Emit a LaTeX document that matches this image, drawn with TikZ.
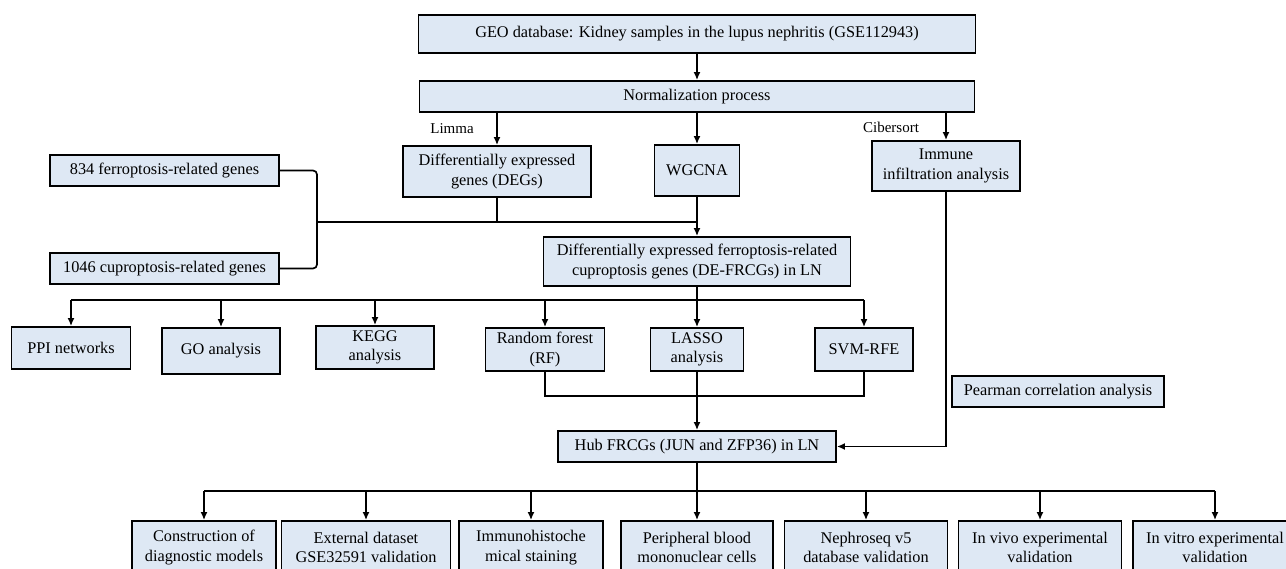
\documentclass[tikz,border=0pt]{standalone}
\usepackage{fontspec}
\setmainfont{Liberation Serif}
\usetikzlibrary{arrows.meta}
\definecolor{boxblue}{RGB}{222,232,244}
\tikzset{
	box/.style={draw, line width=1.8pt, fill=boxblue, align=center, inner sep=0pt, font=\fontsize{16.3}{19.5}\selectfont},
	conn/.style={line width=1.7pt},
	arr/.style={conn, -{Latex[length=8pt,width=7pt]}},
	lbl/.style={font=\fontsize{15}{18}\selectfont}
}

\begin{document}
\begin{tikzpicture}[x=1pt, y=-1pt]
				\clip (0,0) rectangle (1286,569);
				% top column
				\node[box, minimum width=557, minimum height=38] (geo) at (697,34) {GEO database: Kidney samples in the lupus nephritis (GSE112943)};
				\node[box, minimum width=555, minimum height=31] (norm) at (697,96.5) {Normalization process};
				\node[box, minimum width=188, minimum height=51] (degs) at (497,171.5) {Differentially expressed\\genes (DEGs)};
				\node[box, minimum width=85, minimum height=51] (wgcna) at (697,170.5) {WGCNA};
				\node[box, minimum width=148, minimum height=50] (immune) at (946,166) {Immune\\infiltration analysis};
				\node[box, minimum width=229, minimum height=31] (ferro) at (164.5,170.5) {834 ferroptosis-related genes};
				\node[box, minimum width=229, minimum height=31] (cupro) at (164.5,268.5) {1046 cuproptosis-related genes};
				\node[box, minimum width=307, minimum height=49] (defrcg) at (697,261.5) {Differentially expressed ferroptosis-related\\cuproptosis genes (DE-FRCGs) in LN};
				\node[lbl] (limma) at (452,129) {Limma};
				\node[lbl] (cibersort) at (891,127) {Cibersort};
				% analyses
				\node[box, minimum width=119, minimum height=42] (ppi) at (71,348) {PPI networks};
				\node[box, minimum width=118, minimum height=46] (go) at (221,351) {GO analysis};
				\node[box, minimum width=118, minimum height=43] (kegg) at (375,347.5) {KEGG\\analysis};
				\node[box, minimum width=119, minimum height=43] (rf) at (545,349.5) {Random forest\\(RF)};
				\node[box, minimum width=93, minimum height=43] (lasso) at (697,349.5) {LASSO\\analysis};
				\node[box, minimum width=98, minimum height=43] (svm) at (864,349.5) {SVM-RFE};
				\node[box, minimum width=212, minimum height=31] (pearman) at (1058,391.5) {Pearman correlation analysis};
				\node[box, minimum width=278, minimum height=31] (hub) at (697,446.5) {Hub FRCGs (JUN and ZFP36) in LN};
				% validation row
				\node[box, minimum width=144, minimum height=53] (b1) at (204,547.5) {Construction of\\diagnostic models};
				\node[box, minimum width=169, minimum height=53] (b2) at (366,547.5) {External dataset\\GSE32591 validation};
				\node[box, minimum width=144, minimum height=53] (b3) at (531,547.5) {Immunohistoche\\mical staining};
				\node[box, minimum width=152, minimum height=53] (b4) at (697,547.5) {Peripheral blood\\mononuclear cells};
				\node[box, minimum width=163, minimum height=53] (b5) at (866,547.5) {Nephroseq v5\\database validation};
				\node[box, minimum width=163, minimum height=53] (b6) at (1040,547.5) {In vivo experimental\\validation};
				\node[box, minimum width=164, minimum height=53] (b7) at (1215,547.5) {In vitro experimental\\validation};
				% connectors
				\coordinate (join) at (317,222);
				\coordinate (split) at (697,300);
				\coordinate (merge) at (697,396);
				\coordinate (fan) at (697,491);
				\draw[arr] (geo) -- (norm);
				\draw[arr] (norm.south -| degs) -- (degs);
				\draw[arr] (norm) -- (wgcna);
				\draw[arr] (norm.south -| immune) -- (immune);
				\draw[conn, rounded corners=4] (ferro.east) -| (join) |- (cupro.east);
				\draw[conn] (degs) -- (degs |- join);
				\draw[conn] (join) -- (join -| wgcna);
				\draw[arr] (wgcna) -- (defrcg);
				\draw[conn] (defrcg) -- (split);
				\draw[conn] (split -| ppi) -- (split -| svm);
				\foreach \n in {ppi,go,kegg,rf,lasso,svm}
					\draw[arr] (split -| \n) -- (\n);
				\draw[conn] (rf) |- (merge) -| (svm);
				\draw[arr] (lasso) -- (hub);
				\draw[arr] (immune) |- (hub);
				\draw[conn] (hub) -- (fan);
				\draw[conn] (fan -| b1) -- (fan -| b7);
				\foreach \n in {b1,b2,b3,b4,b5,b6,b7}
					\draw[arr] (fan -| \n) -- (\n);
			\end{tikzpicture}
\end{document}
